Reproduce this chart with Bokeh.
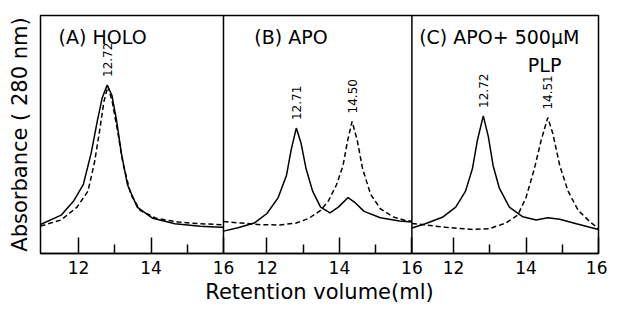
import math
from bokeh.plotting import figure
from bokeh.models import Range1d, FixedTicker, Span, Label
from bokeh.embed import file_html
from bokeh.resources import INLINE

FONT = "DejaVu Sans"

# ---- data (retention volume in ml, absorbance in arbitrary units) ----
# Panel A: HOLO
holo_solid_x = [10.95, 11.52, 11.87, 12.13, 12.35, 12.52, 12.65, 12.79, 12.92, 13.05, 13.18, 13.35, 13.62, 14.05, 14.66, 15.36, 15.93, 16.0]
holo_solid_y = [0.122, 0.161, 0.222, 0.289, 0.423, 0.558, 0.652, 0.708, 0.665, 0.558, 0.423, 0.289, 0.195, 0.148, 0.125, 0.114, 0.110, 0.110]
holo_dash_x = [10.95, 11.52, 11.96, 12.26, 12.44, 12.57, 12.70, 12.81, 12.93, 13.09, 13.22, 13.44, 13.70, 14.14, 14.75, 15.36, 15.93, 16.0]
holo_dash_y = [0.115, 0.141, 0.195, 0.262, 0.383, 0.504, 0.638, 0.703, 0.638, 0.504, 0.383, 0.249, 0.181, 0.148, 0.132, 0.125, 0.121, 0.120]

# Panel B: APO
apo_solid_x = [10.8, 11.20, 11.65, 12.0, 12.31, 12.54, 12.67, 12.81, 12.94, 13.08, 13.26, 13.48, 13.74, 13.97, 14.24, 14.42, 14.68, 15.13, 15.66, 16.0]
apo_solid_y = [0.094, 0.108, 0.128, 0.168, 0.235, 0.329, 0.437, 0.527, 0.464, 0.356, 0.262, 0.195, 0.171, 0.195, 0.235, 0.215, 0.177, 0.150, 0.137, 0.132]
apo_dash_x = [10.8, 11.29, 11.83, 12.36, 12.81, 13.16, 13.48, 13.70, 13.92, 14.10, 14.23, 14.35, 14.49, 14.64, 14.86, 15.13, 15.48, 15.84, 16.0]
apo_dash_y = [0.134, 0.128, 0.121, 0.120, 0.128, 0.148, 0.181, 0.222, 0.289, 0.370, 0.477, 0.555, 0.477, 0.356, 0.249, 0.188, 0.154, 0.138, 0.136]

# Panel C: APO + 500 uM PLP
plp_solid_x = [10.85, 11.22, 11.69, 12.06, 12.33, 12.52, 12.66, 12.82, 12.96, 13.09, 13.26, 13.54, 13.91, 14.28, 14.60, 14.93, 15.39, 15.76, 16.0]
plp_solid_y = [0.107, 0.125, 0.152, 0.195, 0.262, 0.356, 0.477, 0.578, 0.491, 0.370, 0.276, 0.195, 0.154, 0.141, 0.150, 0.144, 0.125, 0.110, 0.101]
plp_dash_x = [10.85, 11.22, 11.78, 12.52, 12.98, 13.44, 13.77, 14.0, 14.23, 14.42, 14.60, 14.74, 14.93, 15.16, 15.44, 15.76, 16.0]
plp_dash_y = [0.126, 0.120, 0.110, 0.101, 0.104, 0.128, 0.161, 0.235, 0.356, 0.477, 0.571, 0.504, 0.370, 0.262, 0.181, 0.134, 0.104]

panel_titles = ["(A) HOLO", "(B) APO", "(C) APO+ 500µM"]
panel_subtitle = "PLP"
panel_lo = [10.95, 10.8, 10.85]
panel_hi = [16.0, 16.0, 16.0]
major_ticks = [12, 14, 16]
minor_ticks = [13, 15]

# peak annotations: (panel, series, text)
peak_labels = [(0, "solid", "12.72"), (1, "solid", "12.71"), (1, "dash", "14.50"),
               (2, "solid", "12.72"), (2, "dash", "14.51")]

panels = [
    {"solid": (holo_solid_x, holo_solid_y), "dash": (holo_dash_x, holo_dash_y)},
    {"solid": (apo_solid_x, apo_solid_y), "dash": (apo_dash_x, apo_dash_y)},
    {"solid": (plp_solid_x, plp_solid_y), "dash": (plp_dash_x, plp_dash_y)},
]

# offsets to place the three panels side by side on one x axis
offsets = []
start = panel_lo[0]
for lo, hi in zip(panel_lo, panel_hi):
    offsets.append(start - lo)
    start = start + (hi - lo)
x_start, x_end = panel_lo[0], start

p = figure(width=607, height=306, output_backend="svg", toolbar_location=None,
           x_range=Range1d(x_start, x_end), y_range=Range1d(0, 1),
           min_border_left=40, min_border_right=9, min_border_top=15, min_border_bottom=0)
p.grid.visible = False
p.outline_line_color = "black"
p.outline_line_width = 1.5
p.background_fill_color = "white"
p.border_fill_color = "white"

# x axis ticks
ticks, minors, overrides = [], [], {}
for off in offsets:
    for t in major_ticks:
        ticks.append(t + off)
        overrides[t + off] = str(t)
    for t in minor_ticks:
        minors.append(t + off)
p.xaxis.ticker = FixedTicker(ticks=ticks, minor_ticks=minors)
p.xaxis.major_label_overrides = overrides
p.xaxis.major_tick_in = 16
p.xaxis.major_tick_out = 0
p.xaxis.minor_tick_in = 9
p.xaxis.minor_tick_out = 0
p.xaxis.major_tick_line_width = 1.5
p.xaxis.minor_tick_line_width = 1.5
p.xaxis.axis_line_width = 1.5
p.xaxis.major_label_standoff = 7
p.xaxis.major_label_text_font = FONT
p.xaxis.major_label_text_font_size = "17px"
p.xaxis.major_label_text_color = "black"
p.xaxis.axis_label = "Retention volume(ml)"
p.xaxis.axis_label_text_font = FONT
p.xaxis.axis_label_text_font_size = "21px"
p.xaxis.axis_label_text_font_style = "normal"
p.xaxis.axis_label_text_color = "black"
p.xaxis.axis_label_standoff = 3

# y axis: label only
p.yaxis.ticker = FixedTicker(ticks=[])
p.yaxis.axis_line_color = None
p.yaxis.major_tick_out = 0
p.yaxis.major_tick_in = 0
p.yaxis.minor_tick_out = 0
p.yaxis.major_label_standoff = 0
p.yaxis.axis_label = "Absorbance ( 280 nm)"
p.yaxis.axis_label_text_font = FONT
p.yaxis.axis_label_text_font_size = "21px"
p.yaxis.axis_label_text_font_style = "normal"
p.yaxis.axis_label_text_color = "black"
p.yaxis.axis_label_standoff = 9

# panel separators
for i in range(1, len(offsets)):
    p.add_layout(Span(location=panel_lo[i] + offsets[i], dimension="height",
                      line_color="black", line_width=1.5))

# curves
for off, pan in zip(offsets, panels):
    sx, sy = pan["solid"]
    dx, dy = pan["dash"]
    p.line([v + off for v in sx], sy, line_color="black", line_width=1.5)
    p.line([v + off for v in dx], dy, line_color="black", line_width=1.5, line_dash="5 3")

# panel titles
title_x = [11.45, 11.65, 11.05]
for i, (txt, tx) in enumerate(zip(panel_titles, title_x)):
    p.add_layout(Label(x=tx + offsets[i], y=0.955, text=txt, text_font=FONT,
                       text_font_size="19px", text_color="black",
                       text_align="left", text_baseline="top"))
p.add_layout(Label(x=14.05 + offsets[2], y=0.84, text=panel_subtitle, text_font=FONT,
                   text_font_size="19px", text_color="black",
                   text_align="left", text_baseline="top"))

# peak labels
for pi_, series, txt in peak_labels:
    xs, ys = panels[pi_][series]
    k = max(range(len(ys)), key=lambda j: ys[j])
    p.add_layout(Label(x=xs[k] + offsets[pi_], y=ys[k], y_offset=8, text=txt,
                       angle=math.pi / 2, text_font=FONT, text_font_size="12px",
                       text_color="black", text_align="left", text_baseline="middle"))

open("out.html", "w").write(file_html(p, INLINE))
